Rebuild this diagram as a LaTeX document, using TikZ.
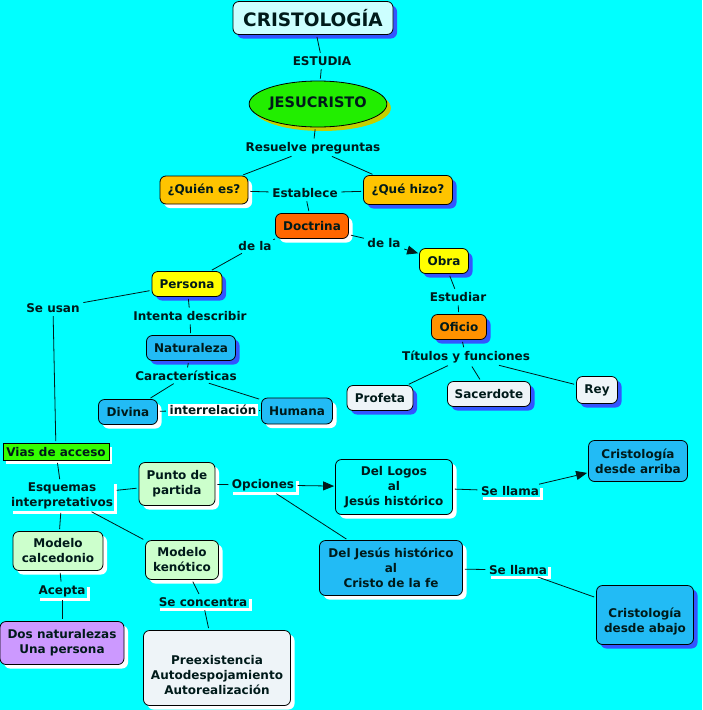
\documentclass[tikz,border=0pt]{standalone}
\usepackage{fontspec}
\setmainfont{DejaVu Sans}
\usetikzlibrary{shapes.geometric,shadows,arrows.meta}
\definecolor{bgc}{HTML}{00FFFF}
\definecolor{txt}{HTML}{001A1A}
\definecolor{shb}{HTML}{3355FF}
\definecolor{lcyan}{HTML}{CCFFFF}
\definecolor{jgreen}{HTML}{22EE00}
\definecolor{olive}{HTML}{C4D000}
\definecolor{gold}{HTML}{FFC400}
\definecolor{dorange}{HTML}{FF6600}
\definecolor{yel}{HTML}{FFFF00}
\definecolor{oorange}{HTML}{FF9200}
\definecolor{nblue}{HTML}{22BBF5}
\definecolor{pale}{HTML}{EEF4F8}
\definecolor{vgreen}{HTML}{33FF00}
\definecolor{lgreen}{HTML}{CCFFCC}
\definecolor{lila}{HTML}{CC99FF}
\tikzset{
  cf/.style={font=\bfseries\fontsize{12}{15}\selectfont, text=txt},
  cbox/.style={cf, draw=black, line width=0.8pt, rounded corners=6pt, align=center, inner sep=2pt},
  bsh/.style={drop shadow={shadow xshift=4pt, shadow yshift=-4pt, fill=shb, opacity=1}},
  wsh/.style={drop shadow={shadow xshift=4pt, shadow yshift=-4pt, fill=white, opacity=1}},
  lab/.style={cf, inner sep=1.5pt, align=center},
  wlab/.style={lab, fill=bgc, drop shadow={shadow xshift=3pt, shadow yshift=-3pt, fill=white, opacity=1}},
  con/.style={draw=txt, line width=0.8pt, shorten <=2pt, shorten >=2pt},
  arr/.style={con, -{Triangle[length=11pt,width=9pt]}, shorten >=1pt},
}
\begin{document}
\begin{tikzpicture}[x=1pt,y=-1pt]
\path[use as bounding box, fill=bgc] (0,0) rectangle (702,710);
% nodes
\node[cbox, bsh, fill=lcyan, minimum width=160pt, minimum height=33pt, font=\bfseries\fontsize{18.5}{22}\selectfont] (cristo) at (313,18) {CRISTOLOGÍA};
\node[lab] (estudia) at (322,61) {ESTUDIA};
\node[cf, ellipse, draw=black, line width=0.8pt, fill=jgreen, minimum width=118pt, minimum height=46pt, inner sep=0pt,
  font=\bfseries\fontsize{14.5}{17}\selectfont,
  drop shadow={shadow xshift=4pt, shadow yshift=-4pt, fill=olive, opacity=1}] (jesus) at (318,104) {JESUCRISTO};
\node[lab] (resuelve) at (313,148) {Resuelve preguntas};
\node[cbox, wsh, fill=gold, minimum width=88pt, minimum height=28pt] (quien) at (204,190) {¿Quién es?};
\node[cbox, bsh, fill=gold, minimum width=89pt, minimum height=29pt] (que) at (408,190) {¿Qué hizo?};
\node[lab] (establece) at (305,193) {Establece};
\node[cbox, wsh, fill=dorange, minimum width=73pt, minimum height=25pt] (doctrina) at (312,226) {Doctrina};
\node[lab] (dela1) at (255,246) {de la};
\node[lab] (dela2) at (384,243) {de la};
\node[cbox, bsh, fill=yel, minimum width=49pt, minimum height=25pt] (obra) at (444,261) {Obra};
\node[cbox, bsh, fill=yel, minimum width=70pt, minimum height=25pt] (persona) at (187,284) {Persona};
\node[lab] (seusan) at (53,308) {Se usan};
\node[lab] (intenta) at (190,316) {Intenta describir};
\node[lab] (estudiar) at (458,297) {Estudiar};
\node[cbox, bsh, fill=oorange, minimum width=55pt, minimum height=25pt] (oficio) at (459,327) {Oficio};
\node[cbox, bsh, fill=nblue, minimum width=89pt, minimum height=25pt] (naturaleza) at (191,348) {Naturaleza};
\node[lab] (titulos) at (466,357) {Títulos y funciones};
\node[lab] (caract) at (186,376) {Características};
\node[cbox, bsh, fill=pale, minimum width=66pt, minimum height=25pt] (profeta) at (380,398) {Profeta};
\node[cbox, bsh, fill=pale, minimum width=83pt, minimum height=25pt] (sacerdote) at (489,394) {Sacerdote};
\node[cbox, bsh, fill=pale, minimum width=41pt, minimum height=27pt] (rey) at (597,390) {Rey};
\node[cbox, wsh, fill=nblue, minimum width=59pt, minimum height=25pt] (divina) at (128,412) {Divina};
\node[lab, fill=white] (interrel) at (213,410) {interrelación};
\node[cbox, wsh, fill=nblue, minimum width=71pt, minimum height=26pt] (humana) at (297,411) {Humana};
\node[cf, draw=black, line width=0.8pt, fill=vgreen, minimum width=106pt, minimum height=17pt, inner sep=1pt,
  drop shadow={shadow xshift=3pt, shadow yshift=-3pt, fill=white, opacity=1}] (vias) at (56,452) {Vias de acceso};
\node[wlab] (esquemas) at (62,496) {Esquemas\\interpretativos};
\node[cbox, wsh, fill=lgreen, minimum width=76pt, minimum height=43pt] (punto) at (177,484) {Punto de\\partida};
\node[wlab] (opciones) at (263,485) {Opciones};
\node[cbox, wsh, fill=bgc, minimum width=117pt, minimum height=55pt] (logos) at (394,487) {Del Logos\\al\\Jesús histórico};
\node[wlab] (sellama1) at (510,491) {Se llama};
\node[cbox, fill=nblue, minimum width=99pt, minimum height=41pt] (arriba) at (638,461) {Cristología\\desde arriba};
\node[cbox, wsh, fill=lgreen, minimum width=90pt, minimum height=39pt] (calced) at (58,551) {Modelo\\calcedonio};
\node[cbox, wsh, fill=lgreen, minimum width=73pt, minimum height=39pt] (kenot) at (182,560) {Modelo\\kenótico};
\node[cbox, wsh, fill=nblue, minimum width=143pt, minimum height=55pt] (deljesus) at (391,568) {Del Jesús histórico\\al\\Cristo de la fe};
\node[wlab] (sellama2) at (518,570) {Se llama};
\node[cbox, bsh, fill=nblue, minimum width=97pt, minimum height=59pt] (abajo) at (645,615) {\mbox{}\\[8pt]Cristología\\desde abajo};
\node[wlab] (acepta) at (62,591) {Acepta};
\node[wlab] (seconc) at (203,602) {Se concentra};
\node[cbox, wsh, fill=lila, minimum width=124pt, minimum height=43pt] (dosnat) at (62,643) {Dos naturalezas\\Una persona};
\node[cbox, wsh, fill=pale, minimum width=147pt, minimum height=75pt] (preex) at (217,668) {\mbox{}\\[8pt]Preexistencia\\Autodespojamiento\\Autorealización};
% connectors
\draw[con] (cristo) -- (estudia);
\draw[con] (estudia) -- (jesus);
\draw[con] (jesus) -- (resuelve);
\draw[con] (resuelve) -- (quien);
\draw[con] (resuelve) -- (que);
\draw[con] (quien) -- (establece);
\draw[con] (establece) -- (que);
\draw[con] (establece) -- (doctrina);
\draw[con] (doctrina) -- (dela1);
\draw[con] (dela1) -- (persona);
\draw[con] (doctrina) -- (dela2);
\draw[arr] (dela2) -- (obra);
\draw[con] (persona) -- (seusan);
\draw[con] (seusan) -- (vias);
\draw[con] (persona) -- (intenta);
\draw[con] (intenta) -- (naturaleza);
\draw[con] (naturaleza) -- (caract);
\draw[con] (caract) -- (divina);
\draw[con] (caract) -- (humana);
\draw[con] (divina) -- (interrel);
\draw[con] (interrel) -- (humana);
\draw[con] (obra) -- (estudiar);
\draw[con] (estudiar) -- (oficio);
\draw[con] (oficio) -- (titulos);
\draw[con] (titulos) -- (profeta);
\draw[con] (titulos) -- (sacerdote);
\draw[con] (titulos) -- (rey);
\draw[con] (vias) -- (esquemas);
\draw[con] (esquemas) -- (punto);
\draw[con] (esquemas) -- (calced);
\draw[con] (esquemas) -- (kenot);
\draw[con] (punto) -- (opciones);
\draw[arr] (opciones) -- (logos);
\draw[con] (opciones) -- (deljesus);
\draw[con] (logos) -- (sellama1);
\draw[arr] (sellama1) -- (arriba);
\draw[con] (deljesus) -- (sellama2);
\draw[con] (sellama2) -- (abajo);
\draw[con] (calced) -- (acepta);
\draw[con] (acepta) -- (dosnat);
\draw[con] (kenot) -- (seconc);
\draw[con] (seconc) -- (preex);
\end{tikzpicture}
\end{document}
